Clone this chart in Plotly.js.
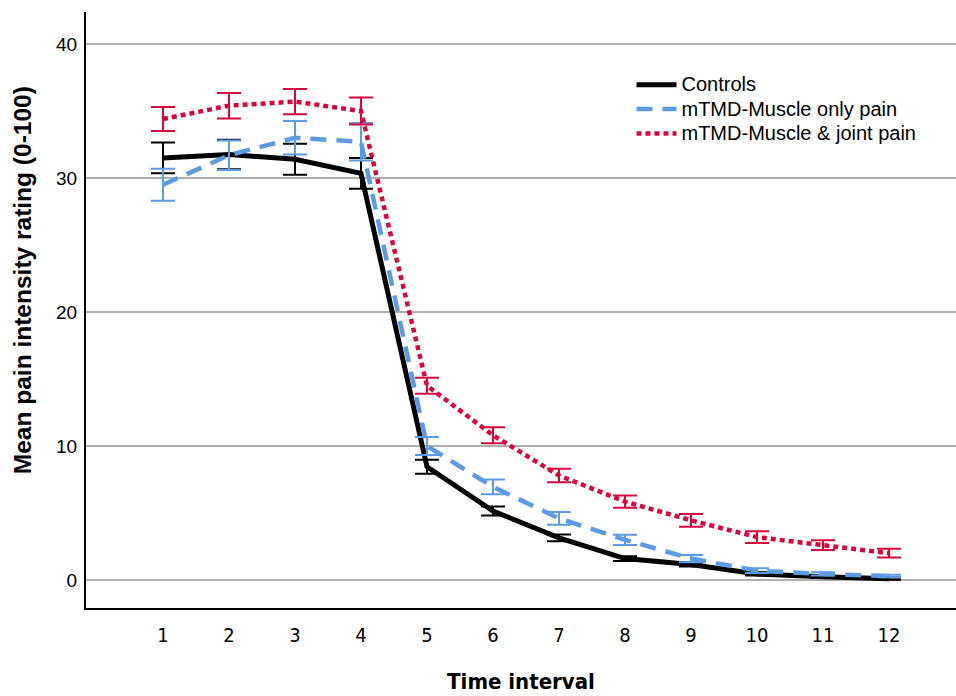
<!DOCTYPE html>
<html>
<head>
<meta charset="utf-8">
<script src="https://cdn.plot.ly/plotly-3.0.1.min.js"></script>
<style>html,body{margin:0;padding:0;background:#fff;}</style>
</head>
<body>
<div id="chart" style="width:956px;height:696px;"></div>
<script>
const timeIntervals = [1,2,3,4,5,6,7,8,9,10,11,12];
const controlsMean = [31.5,31.75,31.4,30.35,8.45,5.15,3.15,1.6,1.15,0.45,0.25,0.1];
const controlsErr  = [1.15,1.1,1.15,1.15,0.52,0.33,0.25,0.18,0.14,0.12,0.1,0.08];
const muscleMean   = [29.5,31.7,33.0,32.7,10.0,6.95,4.6,3.0,1.6,0.7,0.45,0.3];
const muscleErr    = [1.2,1.1,1.25,1.4,0.67,0.55,0.47,0.38,0.27,0.18,0.12,0.1];
const jointMean    = [34.4,35.4,35.7,35.0,14.5,10.8,7.8,5.85,4.45,3.2,2.6,2.0];
const jointErr     = [0.9,0.95,0.95,1.0,0.6,0.6,0.5,0.45,0.47,0.43,0.37,0.33];
const seriesNames  = ["Controls","mTMD-Muscle only pain","mTMD-Muscle & joint pain"];
const yTicks = [0,10,20,30,40];
const xTitle = "Time interval";
const yTitle = "Mean pain intensity rating (0-100)";

const colBlack = "#000000", colBlue = "#5b9be4", colRed = "#d7073c";
const baseFont = "Liberation Sans, Arial, sans-serif";
const narrowFont = "Liberation Sans Narrow, Arial Narrow, DejaVu Sans Condensed, Liberation Sans, sans-serif";

function errBar(arr, color){
  return {type:"data", array:arr, visible:true, color:color, thickness:2, width:12};
}
function legName(s){ return '<span style="font-size:20px">' + s + '</span>'; }

const traces = [
  {x:timeIntervals, y:controlsMean, name:legName(seriesNames[0]), mode:"lines",
   line:{color:colBlack, width:5}, error_y:errBar(controlsErr, colBlack)},
  {x:timeIntervals, y:muscleMean, name:legName(seriesNames[1]), mode:"lines",
   line:{color:colBlue, width:4.5, dash:"16px,10px"}, error_y:errBar(muscleErr, colBlue)},
  {x:timeIntervals, y:jointMean, name:legName(seriesNames[2]), mode:"lines",
   line:{color:colRed, width:4.5, dash:"5px,4px"}, error_y:errBar(jointErr, colRed)}
];

const layout = {
  width:956, height:696,
  margin:{l:86, r:0, t:12, b:88},
  paper_bgcolor:"#fff", plot_bgcolor:"#fff",
  font:{family:baseFont, size:18, color:"#000"},
  showlegend:true,
  legend:{x:0.627, y:0.907, xanchor:"left", yanchor:"top", bgcolor:"rgba(0,0,0,0)",
          font:{size:16.5, family:baseFont}, tracegroupgap:0, itemwidth:40},
  xaxis:{range:[-0.1667,13.015], tickvals:timeIntervals, ticktext:timeIntervals.map(String),
         showgrid:false, zeroline:false, showline:true, linecolor:"#000", linewidth:2,
         ticks:"", ticklabelstandoff:8,
         tickfont:{family:narrowFont, size:20},
         title:{text:"<b>" + xTitle + "</b>", standoff:28,
                font:{family:narrowFont, size:22}}},
  yaxis:{range:[-2.09,42.39], tickvals:yTicks, showgrid:true, gridcolor:"#b0b0b0", gridwidth:1.5,
         zeroline:false, showline:true, linecolor:"#000", linewidth:2, ticks:"",
         tickfont:{size:19}, ticklabelstandoff:3},
  annotations:[{text:"<b>" + yTitle + "</b>", textangle:-90, xref:"paper", yref:"paper",
                x:-0.0736, y:0.55, xanchor:"center", yanchor:"middle", showarrow:false,
                font:{size:24.5, family:baseFont}}]
};

Plotly.newPlot("chart", traces, layout, {displayModeBar:false, staticPlot:true});
</script>
</body>
</html>
